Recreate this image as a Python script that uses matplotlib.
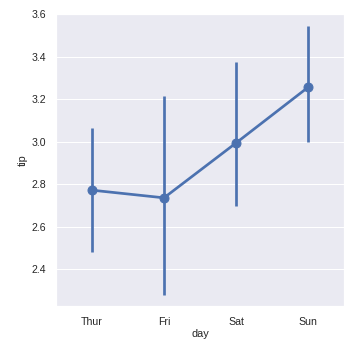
import numpy as np
import matplotlib
matplotlib.use("Agg")
import matplotlib.pyplot as plt
import seaborn as sns

sns.set_theme(style="darkgrid")
plt.rcParams['font.family'] = ['Liberation Sans', 'DejaVu Sans']

# data: mean tip by day with 95% CI
days = ["Thur", "Fri", "Sat", "Sun"]
tip_mean = [2.771, 2.735, 2.993, 3.255]
ci_low = [2.478, 2.279, 2.698, 2.996]
ci_high = [3.065, 3.212, 3.376, 3.542]

BLUE = "#4c72b0"

fig = plt.figure(figsize=(361 / 72, 352 / 72), dpi=72)
ax = fig.add_axes([56 / 361, 46 / 352, 288 / 361, 292 / 352])

x = np.arange(len(days))
ax.vlines(x, ci_low, ci_high, color=BLUE, lw=2.7, zorder=3)
ax.plot(x, tip_mean, color=BLUE, lw=2.7, marker="o", markersize=9, zorder=4)

ax.set_xticks(x)
ax.set_xticklabels(days)
ax.set_xlim(-0.5, 3.5)
ax.set_ylim(2.226, 3.6)
ax.set_yticks([2.4, 2.6, 2.8, 3.0, 3.2, 3.4, 3.6])
ax.grid(axis="x", visible=False)
ax.tick_params(axis="x", labelsize=10.5, pad=5)
ax.tick_params(axis="y", labelsize=10.5, pad=4)
ax.set_xlabel("day", fontsize=11, labelpad=2)
ax.set_ylabel("tip", fontsize=11)

fig.savefig("out.png", dpi=72)
